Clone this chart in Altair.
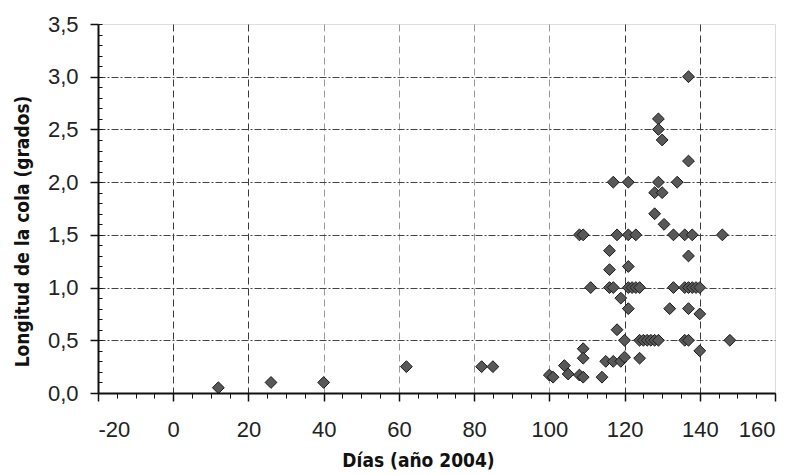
import altair as alt
import pandas as pd

# Días (año 2004)
days = [12, 26, 40, 62, 82, 85,
        100, 101, 104, 105, 108, 109, 109, 109, 114, 115, 117, 119, 120, 124,
        118, 119, 121, 132, 137, 140, 140,
        120, 124, 125, 126, 127, 128, 129, 136, 137, 148,
        111, 116, 117, 121, 122, 123, 124, 133, 136, 137, 138, 139, 140,
        116, 121, 116, 137,
        108, 109, 118, 121, 123, 133, 136, 138, 146,
        128, 130.5, 128, 130,
        117, 121, 129, 134,
        137, 129, 129, 130, 137]

# Longitud de la cola (grados)
lengths = [0.05, 0.10, 0.10, 0.25, 0.25, 0.25,
           0.17, 0.15, 0.26, 0.18, 0.17, 0.15, 0.42, 0.33, 0.15, 0.30, 0.30, 0.30, 0.34, 0.33,
           0.60, 0.90, 0.80, 0.80, 0.80, 0.75, 0.40,
           0.5, 0.5, 0.5, 0.5, 0.5, 0.5, 0.5, 0.5, 0.5, 0.5,
           1.0, 1.0, 1.0, 1.0, 1.0, 1.0, 1.0, 1.0, 1.0, 1.0, 1.0, 1.0, 1.0,
           1.17, 1.20, 1.35, 1.30,
           1.5, 1.5, 1.5, 1.5, 1.5, 1.5, 1.5, 1.5, 1.5,
           1.70, 1.60, 1.90, 1.90,
           2.0, 2.0, 2.0, 2.0,
           2.20, 2.60, 2.50, 2.40, 3.00]

x_major = list(range(-20, 161, 20))
x_minor = list(range(-20, 161, 5))
x_grid = list(range(0, 141, 20))
y_major = [0.0, 0.5, 1.0, 1.5, 2.0, 2.5, 3.0, 3.5]
y_minor = [i / 10 for i in range(0, 36)]
y_grid = [0.5, 1.0, 1.5, 2.0, 2.5, 3.0]

df = pd.DataFrame({"dia": days, "longitud": lengths})

xs = alt.Scale(domain=[-20, 160], nice=False, zero=False)
ys = alt.Scale(domain=[0, 3.5], nice=False, zero=False)

LABEL_FONT = "Liberation Sans"
TITLE_FONT = "DejaVu Sans Condensed, DejaVu Sans, sans-serif"

base = alt.Chart(df)

grid_layer = base.mark_point(opacity=0).encode(
    x=alt.X("dia:Q", scale=xs, axis=alt.Axis(
        orient="bottom", values=x_grid, grid=True, ticks=False, labels=False,
        domain=False, title=None, zindex=0, gridDash=[7, 4], gridWidth=1,
        gridColor={"condition": {"test": "datum.value == 0 || datum.value == 20 || datum.value >= 120",
                                 "value": "#3a3a3a"}, "value": "#9a9a9a"})),
    y=alt.Y("longitud:Q", scale=ys, axis=alt.Axis(
        orient="left", values=y_grid, grid=True, ticks=False, labels=False,
        domain=False, title=None, zindex=0, gridDash=[7, 2, 2, 2], gridWidth=1,
        gridColor="#444444")),
)

points = base.mark_point(shape="diamond", filled=True, size=140, fill="#585858",
                         stroke="#1a1a1a", strokeWidth=1, opacity=1).encode(
    x=alt.X("dia:Q", scale=xs, axis=alt.Axis(
        orient="bottom", values=x_major, grid=False, tickSize=8, tickColor="#111",
        tickWidth=1.5, domainColor="#111", domainWidth=2, zindex=1,
        labelExpr="'' + datum.value", labelFont=LABEL_FONT, labelFontSize=22,
        labelColor="#222", labelPadding=18,
        title="Días (año 2004)", titleFont=TITLE_FONT, titleFontSize=19,
        titleFontWeight="bold", titleColor="#111", titleX=320, titleY=67,
        titleAlign="center", titleBaseline="middle")),
    y=alt.Y("longitud:Q", scale=ys, axis=alt.Axis(
        orient="left", values=y_major, grid=False, tickSize=8, tickColor="#111",
        tickWidth=1.5, domainColor="#111", domainWidth=2, zindex=1,
        labelExpr="replace(format(datum.value, '.1f'), '.', ',')",
        labelFont=LABEL_FONT, labelFontSize=22, labelColor="#222", labelPadding=12,
        title="Longitud de la cola (grados)", titleFont=TITLE_FONT, titleFontSize=19,
        titleFontWeight="bold", titleColor="#111", titleAngle=270,
        titleX=-76, titleY=207, titleAlign="center", titleBaseline="middle")),
)

minor = base.mark_point(opacity=0).encode(
    x=alt.X("dia:Q", scale=xs, axis=alt.Axis(
        orient="bottom", values=x_minor, grid=False, tickSize=5, tickColor="#111",
        labels=False, domain=False, title=None, zindex=1)),
    y=alt.Y("longitud:Q", scale=ys, axis=alt.Axis(
        orient="left", values=y_minor, grid=False, tickSize=4, tickColor="#111",
        labels=False, domain=False, title=None, offset=-4, zindex=1)),
)

chart = alt.layer(grid_layer, points, minor).resolve_axis(
    x="independent", y="independent"
).properties(
    width=677, height=369,
    autosize=alt.AutoSizeParams(type="none"),
    padding={"left": 90, "top": 16, "right": 12, "bottom": 80},
).configure_view(
    stroke="#333333", strokeWidth=2
).configure(background="white")

chart.save("out.html", embed_options={"renderer": "svg", "actions": False})
